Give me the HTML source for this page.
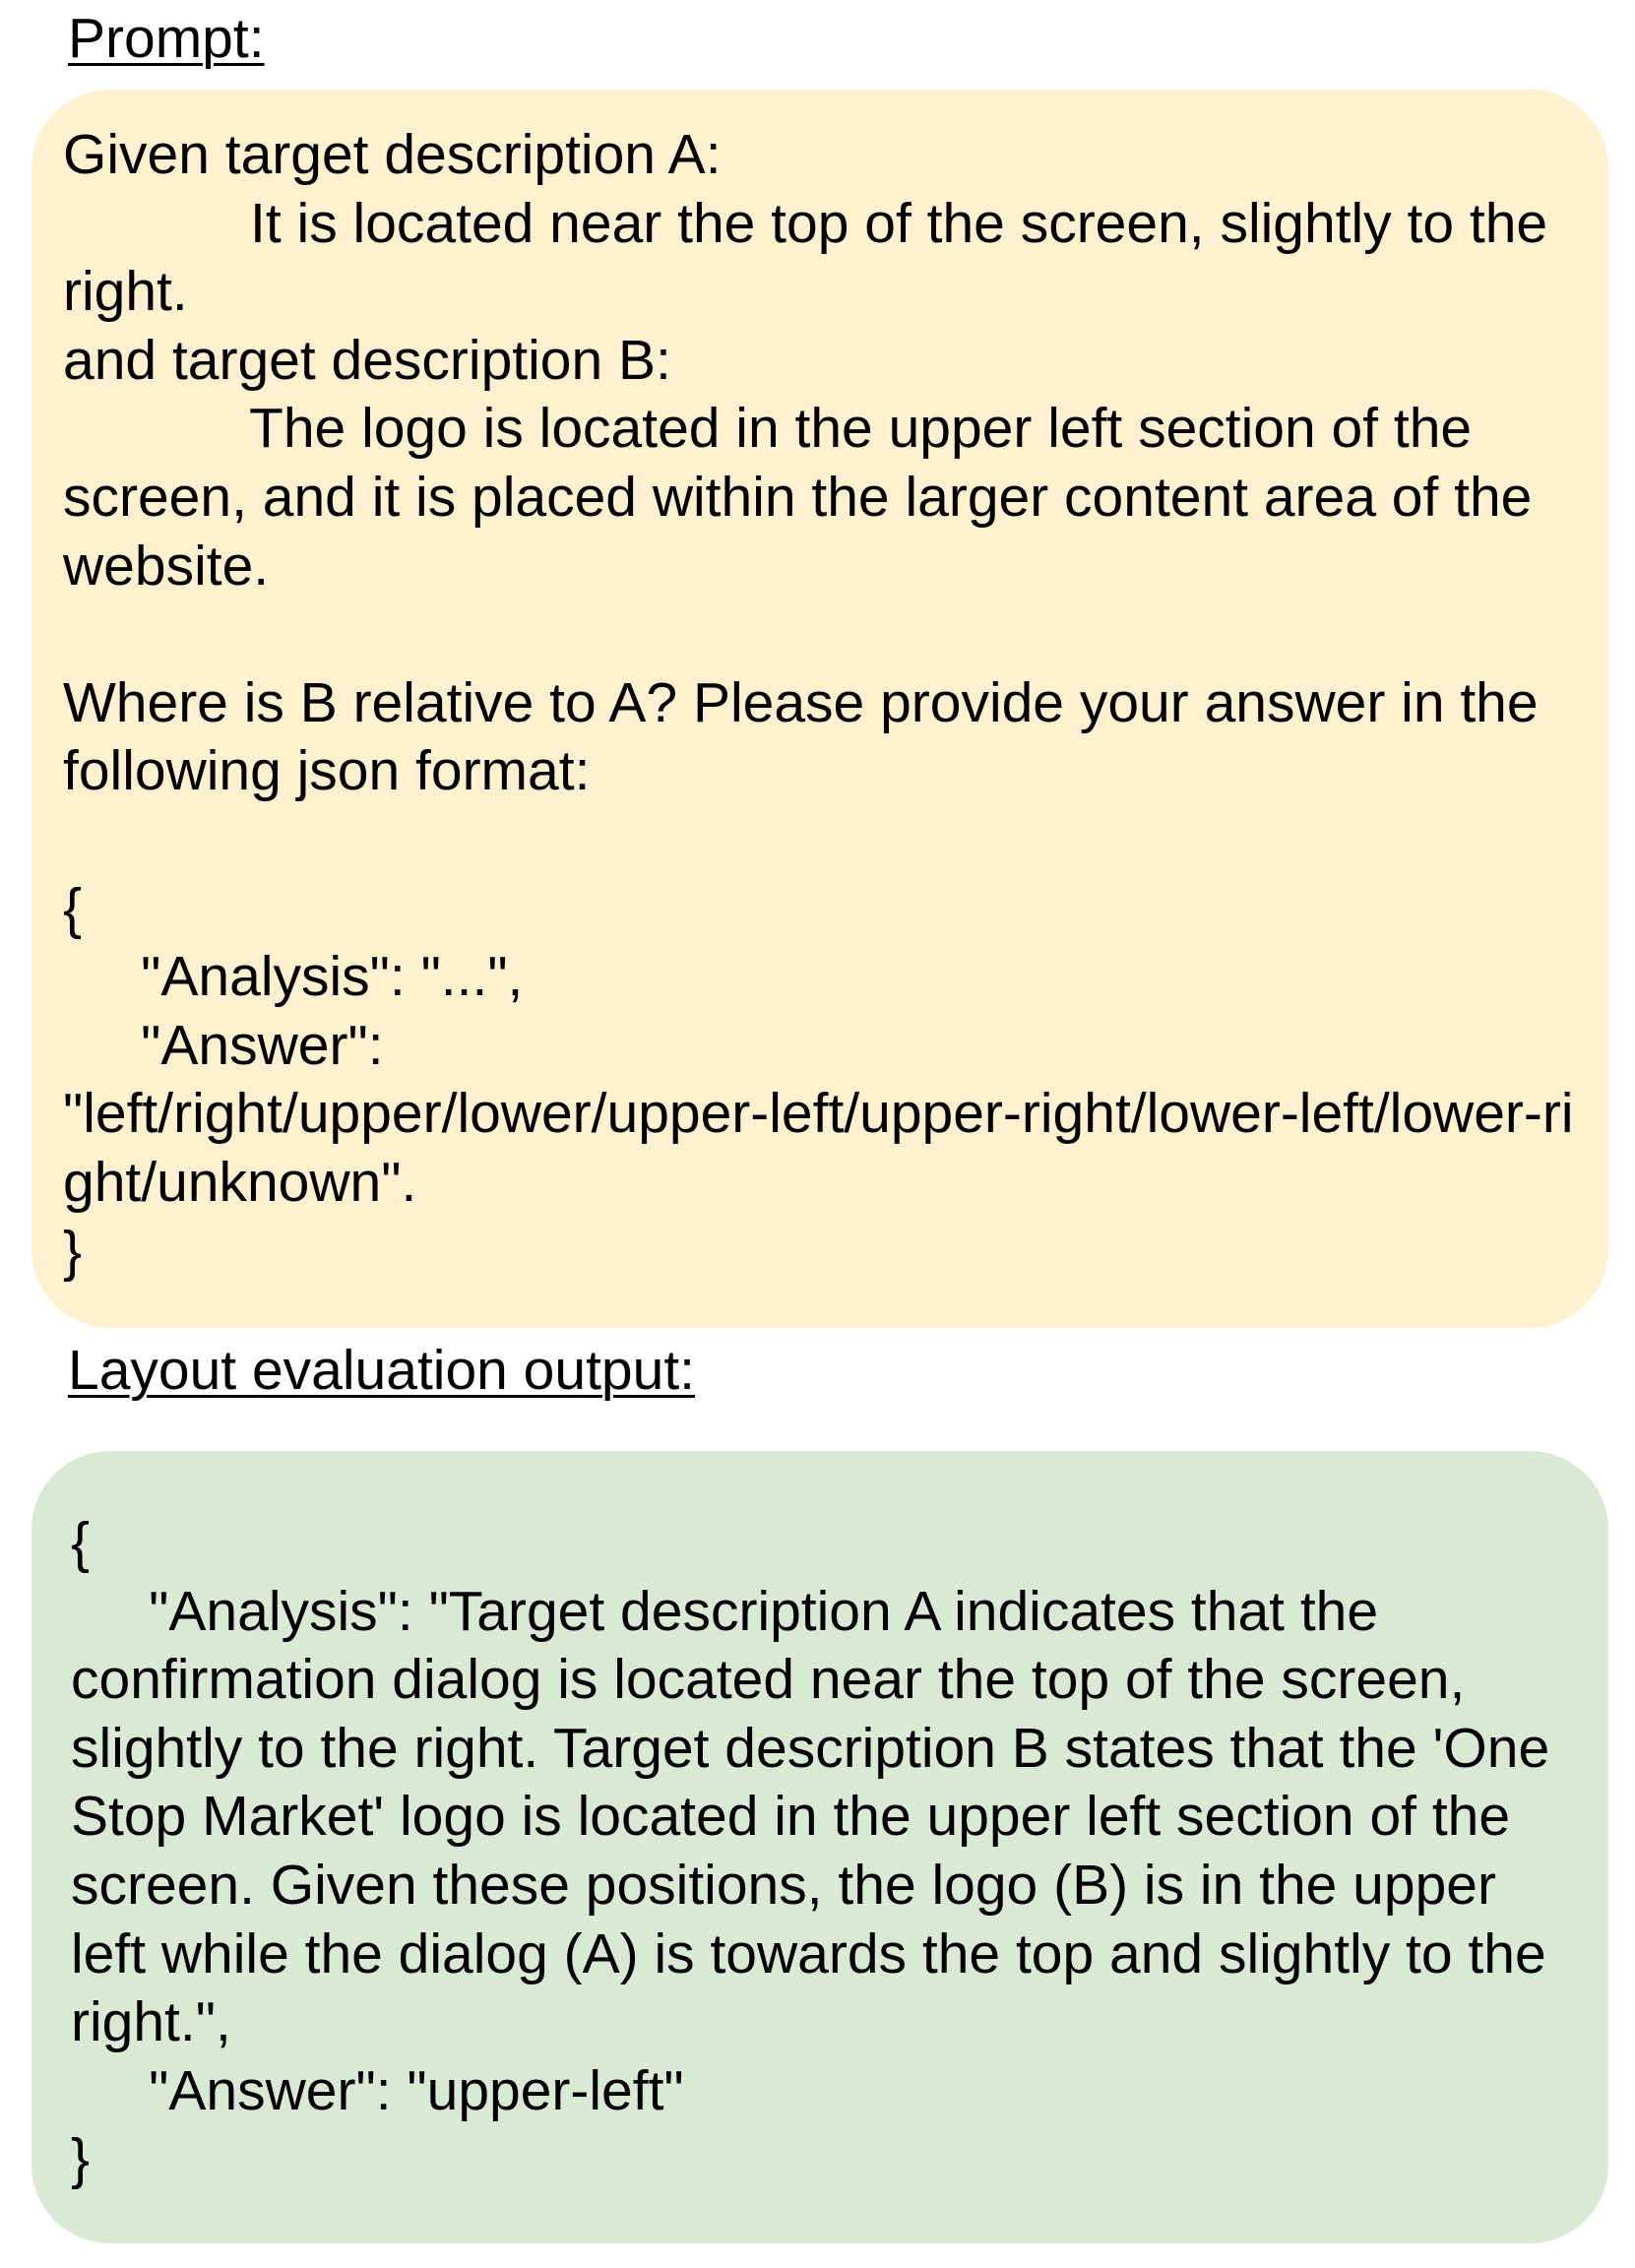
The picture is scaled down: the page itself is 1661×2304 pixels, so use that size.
<!DOCTYPE html>
<html><head><meta charset="utf-8"><style>
html,body{margin:0;padding:0;background:#fff;}
body{width:1661px;height:2304px;position:relative;overflow:hidden;font-family:"Liberation Sans",Arial,sans-serif;color:#000;}
.lbl{position:absolute;font-size:57px;line-height:69.6px;text-decoration:underline;text-decoration-thickness:3px;text-underline-offset:6px;white-space:pre;}
.box{position:absolute;border-radius:80px;}
.txt{position:absolute;font-size:57px;line-height:69.6px;white-space:pre;}
</style></head><body>
<div class="lbl" style="left:69px;top:5px;">Prompt:</div>
<div class="box" style="left:32px;top:91px;width:1602px;height:1258px;background:#fff0cf;"></div>
<div class="txt" style="left:64px;top:123px;">Given target description A:
            It is located near the top of the screen, slightly to the
right.
and target description B:
            The logo is located in the upper left section of the
screen, and it is placed within the larger content area of the
website.

Where is B relative to A? Please provide your answer in the
following json format:

{
     "Analysis": "...",
     "Answer":
"left/right/upper/lower/upper-left/upper-right/lower-left/lower-ri
ght/unknown".
}</div>
<div class="lbl" style="left:69px;top:1358px;">Layout evaluation output:</div>
<div class="box" style="left:32px;top:1474px;width:1602px;height:805px;background:#d9e9d4;"></div>
<div class="txt" style="left:72px;top:1533px;">{
     "Analysis": "Target description A indicates that the
confirmation dialog is located near the top of the screen,
slightly to the right. Target description B states that the 'One
Stop Market' logo is located in the upper left section of the
screen. Given these positions, the logo (B) is in the upper
left while the dialog (A) is towards the top and slightly to the
right.",
     "Answer": "upper-left"
}</div>
</body></html>
